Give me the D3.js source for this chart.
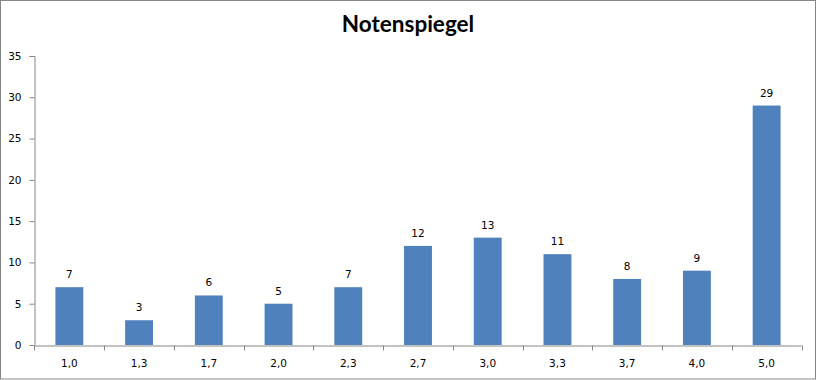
<!DOCTYPE html>
<html>
<head>
<meta charset="utf-8">
<script src="https://cdn.jsdelivr.net/npm/d3@7"></script>
<style>
  html, body { margin: 0; padding: 0; background: #fff; }
  svg { display: block; }
</style>
</head>
<body>
<svg id="chart" width="817" height="380"></svg>
<script>
const title = "Notenspiegel";
const categories = ["1,0", "1,3", "1,7", "2,0", "2,3", "2,7", "3,0", "3,3", "3,7", "4,0", "5,0"];
const values = [7, 3, 6, 5, 7, 12, 13, 11, 8, 9, 29];
const yTicks = [0, 5, 10, 15, 20, 25, 30, 35];

(function () {
const svg = d3.select("#chart");
const mLeft = 34.5, mRight = 801.5, mTop = 56, mBottom = 345;

svg.append("rect").attr("x", 0.5).attr("y", 0.5).attr("width", 815).attr("height", 378.5)
  .attr("fill", "#fff").attr("stroke", "#868686").attr("stroke-width", 1);

svg.append("text").attr("x", 408).attr("y", 32).attr("text-anchor", "middle")
  .attr("font-family", "Lato, 'Open Sans', sans-serif").attr("font-weight", "bold")
  .attr("font-size", 22.5).attr("fill", "#000").text(title);

const x = d3.scaleBand().domain(categories).range([mLeft, mRight]).padding(0);
const y = d3.scaleLinear().domain([0, 35]).range([mBottom, mTop]);

const font = "'DejaVu Sans', Verdana, sans-serif";

// Y axis
const yAxis = svg.append("g").attr("transform", `translate(${mLeft},0)`)
  .call(d3.axisLeft(y).tickValues(yTicks).tickSize(5).tickPadding(8));
yAxis.select(".domain").attr("stroke", "#868686").attr("d", `M-5,${y(35)+0.5}H0.5V${mBottom}`);
yAxis.selectAll(".tick line").attr("stroke", "#868686");
yAxis.selectAll("text").attr("font-family", font).attr("font-size", 10.5).attr("fill", "#000");

// X axis
const xAxis = svg.append("g").attr("transform", `translate(0,${mBottom + 0.5})`)
  .call(d3.axisBottom(x).tickSize(0).tickPadding(14));
xAxis.select(".domain").attr("stroke", "#868686").attr("d", `M${mLeft},0.5H${mRight}`);
xAxis.selectAll("text").attr("font-family", font).attr("font-size", 10.5).attr("fill", "#000");
const boundaries = categories.map(c => x(c)).concat([x(categories[categories.length - 1]) + x.bandwidth()]);
xAxis.selectAll(".bnd").data(boundaries).enter().append("line")
  .attr("x1", d => Math.round(d) + 0.5).attr("x2", d => Math.round(d) + 0.5)
  .attr("y1", 0).attr("y2", 5).attr("stroke", "#868686");

// Bars
const bw = x.bandwidth() * 0.4;
svg.append("g").selectAll("rect").data(values).enter().append("rect")
  .attr("x", (d, i) => x(categories[i]) + (x.bandwidth() - bw) / 2)
  .attr("y", d => y(d))
  .attr("width", bw)
  .attr("height", d => mBottom - y(d))
  .attr("fill", "#4F81BD");

// Labels
svg.append("g").selectAll("text").data(values).enter().append("text")
  .attr("x", (d, i) => x(categories[i]) + x.bandwidth() / 2)
  .attr("y", d => y(d) - 9)
  .attr("text-anchor", "middle")
  .attr("font-family", font).attr("font-size", 10.5).attr("fill", "#000")
  .text(d => d);
})();
</script>
</body>
</html>
